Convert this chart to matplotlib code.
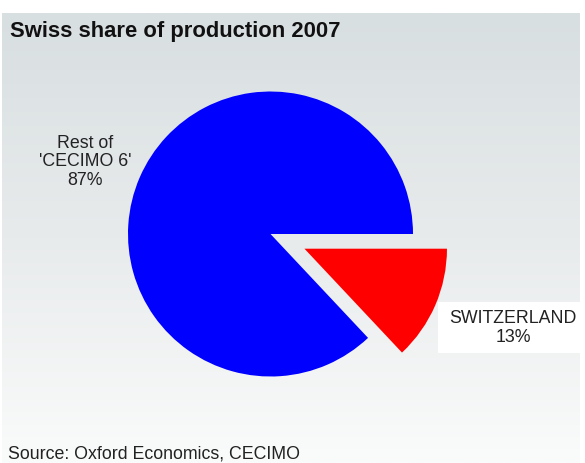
import numpy as np
import matplotlib.pyplot as plt
from matplotlib.colors import LinearSegmentedColormap
from matplotlib.patches import Rectangle

# Shares of production, 2007 (percent)
labels = ["SWITZERLAND", "Rest of\n'CECIMO 6'"]
shares = [13, 87]
colors = ["#ff0000", "#0000ff"]

plt.rcParams["font.family"] = ["Liberation Sans", "DejaVu Sans"]

W, H = 585, 463
fig = plt.figure(figsize=(W / 100, H / 100), dpi=100)
fig.patch.set_facecolor("white")
ax = fig.add_axes([0, 0, 1, 1])

# grey-to-white background panel
bg = LinearSegmentedColormap.from_list("bg", ["#fafbfb", "#e8ebec", "#d8dfe1"])
grad = np.linspace(0, 1, 256).reshape(-1, 1)
ax.imshow(grad, cmap=bg, origin="lower", aspect="auto",
          extent=(2, 580, 0, 450), zorder=0)

# pie, Switzerland slice pulled out (explode is in data units here)
ax.pie(shares, colors=colors, startangle=0, counterclock=False,
       explode=[37, 0], center=(270.5, 229), radius=142.5,
       wedgeprops=dict(linewidth=0), frame=True)
ax.set_xlim(0, W)
ax.set_ylim(0, H)
ax.set_aspect("equal")
ax.axis("off")

ax.text(10, 431, "Swiss share of production 2007", fontsize=15.8,
        fontweight="bold", color="#111111", va="center", ha="left")

# label box for Switzerland
ax.add_patch(Rectangle((438, 110), 147, 51, facecolor="white",
                       edgecolor="none", zorder=3))
ax.text(513, 135, f"{labels[0]}\n{shares[0]}%", fontsize=12.8,
        color="#222222", ha="center", va="center", linespacing=1.1, zorder=4)

ax.text(85, 301, f"{labels[1]}\n{shares[1]}%", fontsize=12.8,
        color="#222222", ha="center", va="center", linespacing=1.1)

ax.text(8, 4.5, "Source: Oxford Economics, CECIMO", fontsize=12.8,
        color="#222222", ha="left", va="baseline")

fig.savefig("out.png", dpi=100)
